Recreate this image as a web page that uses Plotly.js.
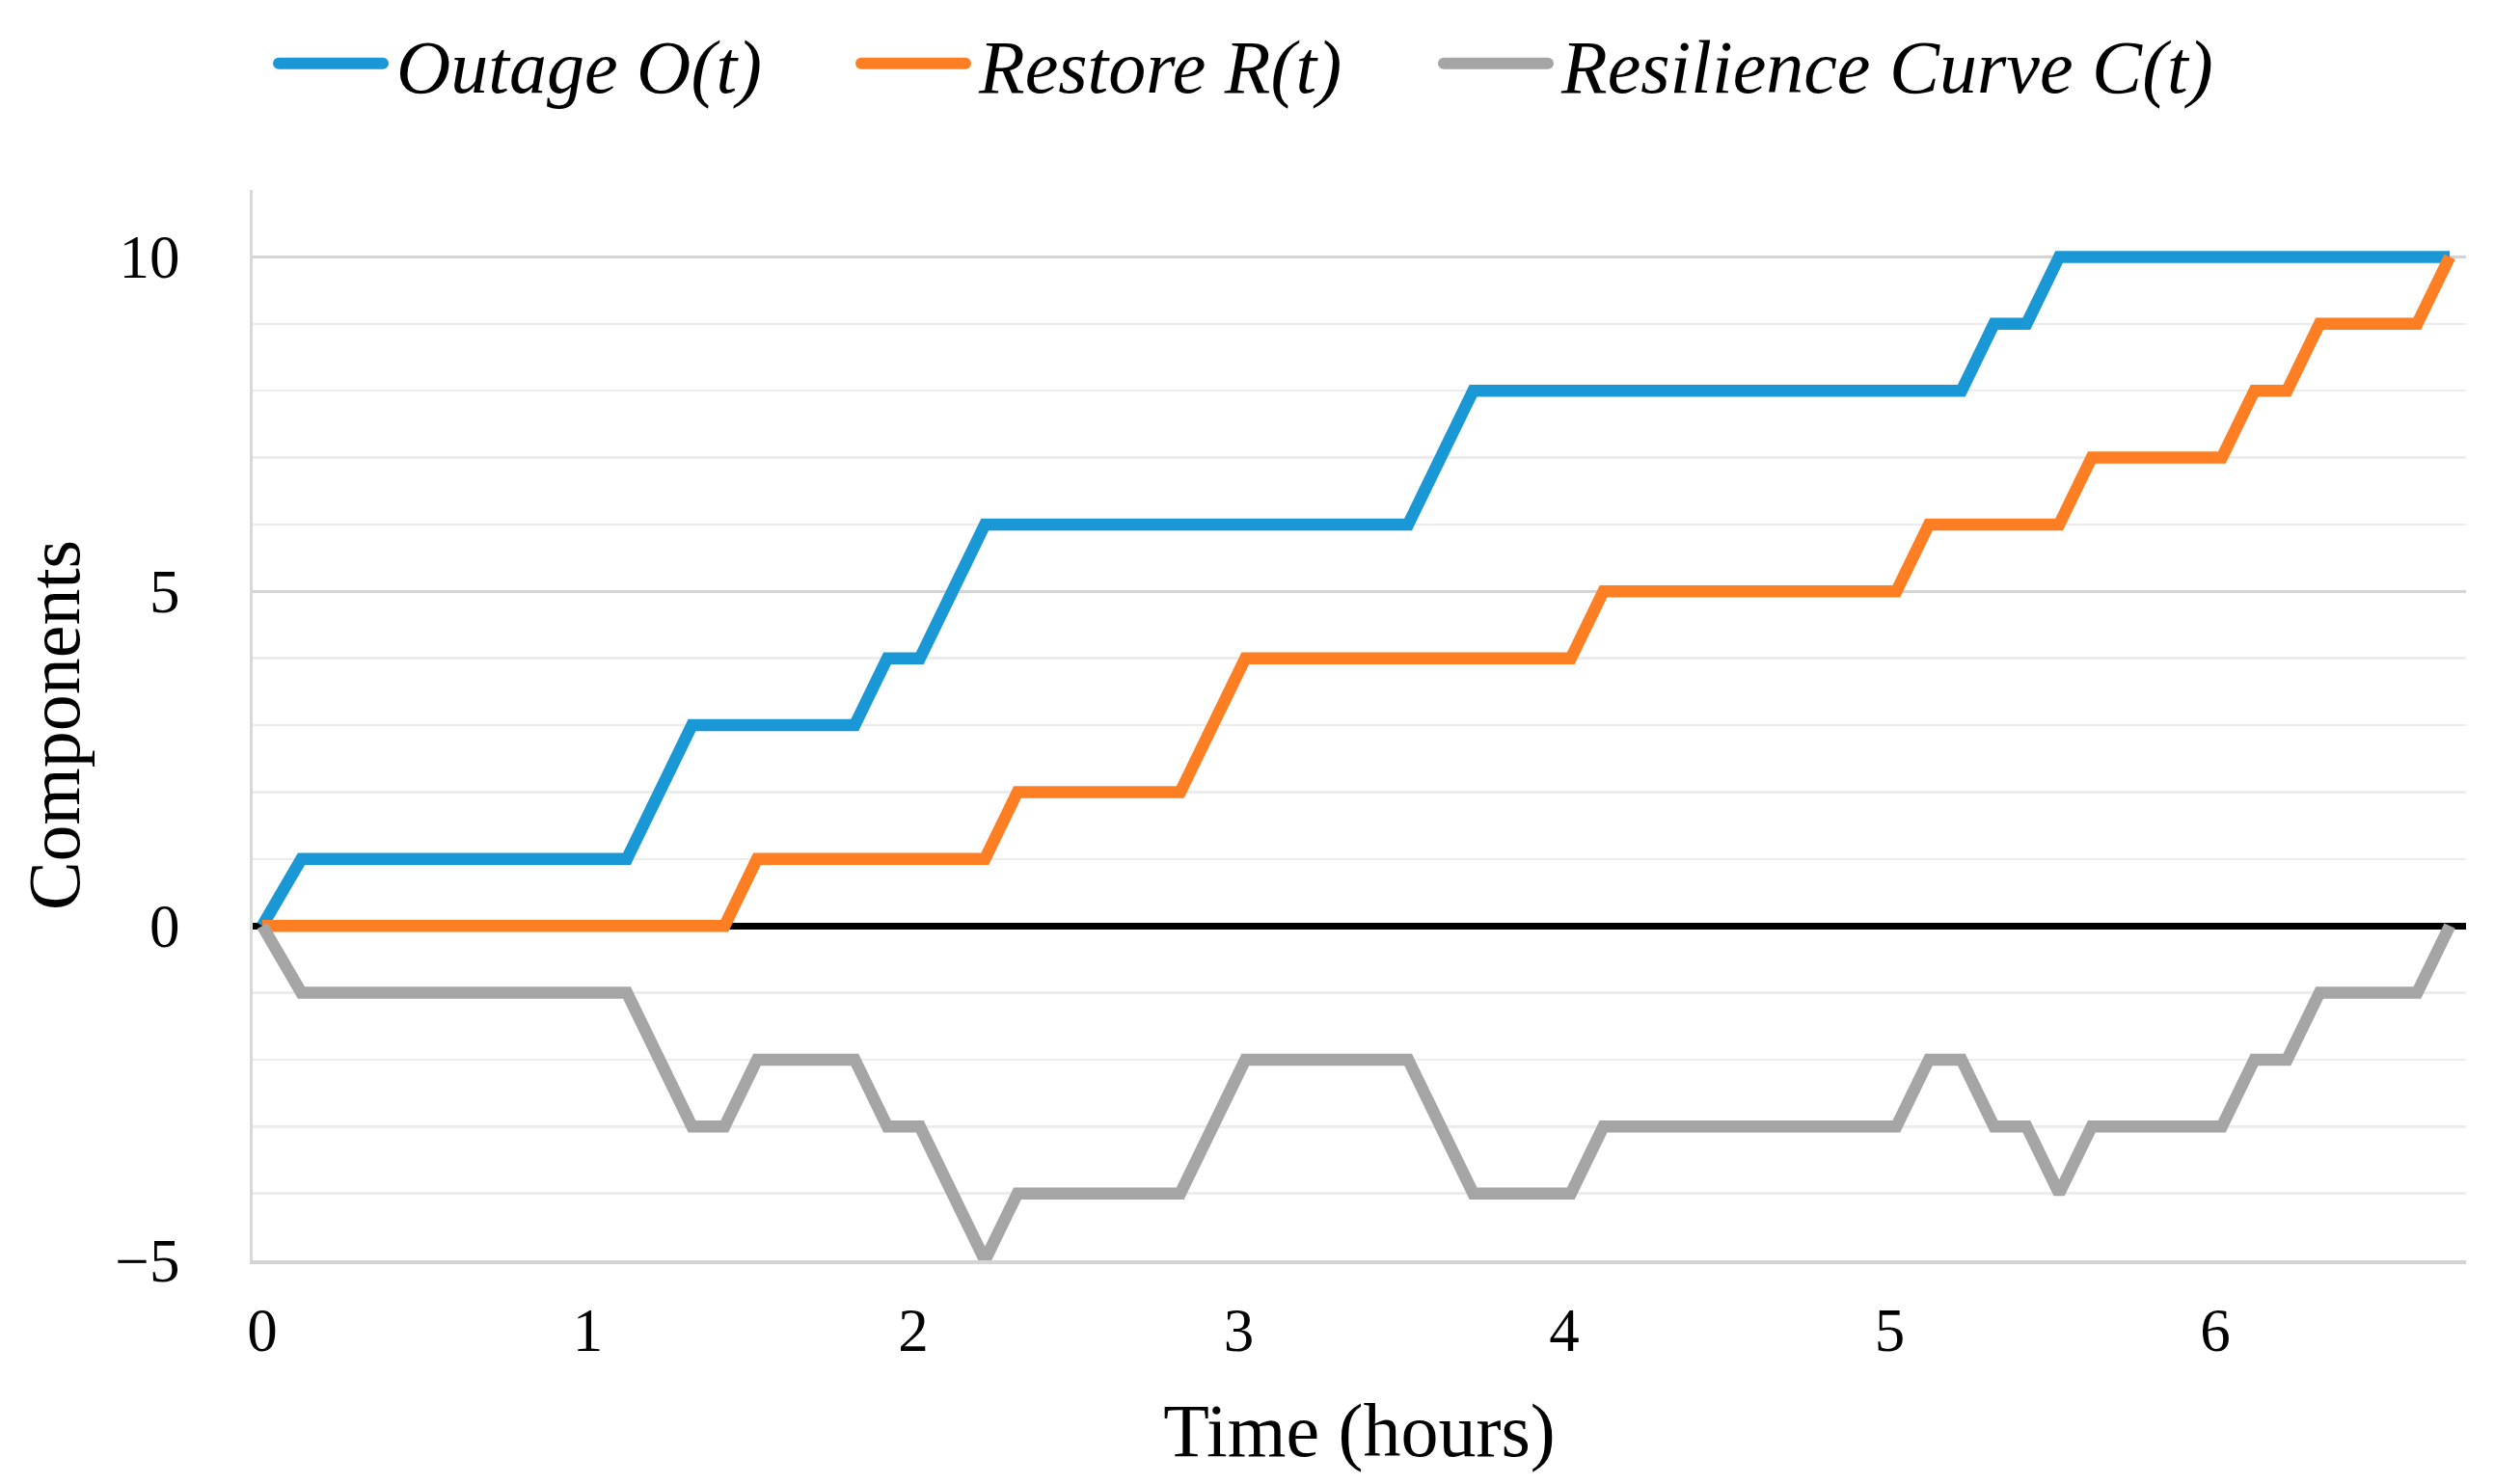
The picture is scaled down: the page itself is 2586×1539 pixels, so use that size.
<!DOCTYPE html>
<html>
<head>
<meta charset="utf-8">
<script src="https://cdn.plot.ly/plotly-3.0.1.min.js"></script>
<style>
html,body{margin:0;padding:0;background:#ffffff;}
#chart{width:2586px;height:1539px;}
</style>
</head>
<body>
<div id="chart"></div>
<script>
// ---- data ----
const timeHours = [0, 0.12, 1.12, 1.22, 1.32, 1.42, 1.52, 1.82, 1.92, 2.02, 2.12, 2.22, 2.32, 2.82, 2.92, 3.02, 3.52, 3.62, 3.72, 4.02, 4.12, 5.02, 5.12, 5.22, 5.32, 5.42, 5.52, 5.62, 6.02, 6.12, 6.22, 6.32, 6.62, 6.72];
const outage     = [0, 1, 1, 2, 3, 3, 3, 3, 4, 4, 5, 6, 6, 6, 6, 6, 6, 7, 8, 8, 8, 8, 8, 8, 9, 9, 10, 10, 10, 10, 10, 10, 10, 10];
const restore    = [0, 0, 0, 0, 0, 0, 1, 1, 1, 1, 1, 1, 2, 2, 3, 4, 4, 4, 4, 4, 5, 5, 6, 6, 6, 6, 6, 7, 7, 8, 8, 9, 9, 10];
const resilience = [0, -1, -1, -2, -3, -3, -2, -2, -3, -3, -4, -5, -4, -4, -3, -2, -2, -3, -4, -4, -3, -3, -2, -2, -3, -3, -4, -3, -3, -2, -2, -1, -1, 0];
const seriesNames = ['Outage O(t)', 'Restore R(t)', 'Resilience Curve C(t)'];
const seriesColors = ['#1a98d6', '#fe7f23', '#a5a5a5'];
const xTickVals = [0, 1, 2, 3, 4, 5, 6];
const yTickVals = [-5, 0, 5, 10];
const xTitle = 'Time (hours)';
const yTitle = 'Components';

const FONT = 'Liberation Serif, Times New Roman, serif';
const seriesValues = [outage, restore, resilience];

const traces = seriesValues.map((vals, i) => ({
  type: 'scatter',
  mode: 'lines',
  x: timeHours,
  y: vals,
  name: seriesNames[i],
  line: {color: seriesColors[i], width: 12.5}
}));

const layout = {
  width: 2586,
  height: 1539,
  paper_bgcolor: '#ffffff',
  plot_bgcolor: '#ffffff',
  margin: {l: 262, r: 29, t: 197, b: 232, pad: 0},
  font: {family: FONT, color: '#000000', size: 63},
  showlegend: true,
  legend: {
    orientation: 'h',
    xref: 'container', yref: 'container',
    x: 278 / 2586, xanchor: 'left',
    y: 1 - 66 / 1539, yanchor: 'middle',
    font: {family: FONT, size: 78, style: 'italic', color: '#000000'},
    itemwidth: 123,
    entrywidth: 466,
    entrywidthmode: 'pixels',
    bgcolor: 'rgba(0,0,0,0)',
    traceorder: 'normal'
  },
  xaxis: {
    range: [-0.0296, 6.770],
    tickmode: 'array',
    tickvals: xTickVals,
    ticktext: xTickVals.map(String),
    showgrid: false,
    zeroline: false,
    showline: true,
    linecolor: '#d4d4d4',
    linewidth: 3.5,
    ticks: '',
    ticklabelstandoff: 15,
    tickfont: {family: FONT, size: 63, color: '#000000'},
    title: {text: xTitle, standoff: 42, font: {family: FONT, size: 78, color: '#000000'}},
    automargin: true
  },
  yaxis: {
    range: [-5, 11],
    tickmode: 'array',
    tickvals: yTickVals,
    ticktext: yTickVals.map(v => v < 0 ? '\u2212' + Math.abs(v) : String(v)),
    showgrid: true,
    gridcolor: '#d4d4d4',
    gridwidth: 3.5,
    minor: {tickmode: 'linear', tick0: 0, dtick: 1, showgrid: true, gridcolor: '#ececec', gridwidth: 2.5},
    zeroline: true,
    zerolinecolor: '#000000',
    zerolinewidth: 7,
    showline: true,
    linecolor: '#d9d9d9',
    linewidth: 3,
    ticks: '',
    ticklabelstandoff: 60,
    tickfont: {family: FONT, size: 63, color: '#000000'},
    title: {text: yTitle, standoff: 12, font: {family: FONT, size: 76, color: '#000000'}},
    automargin: true
  }
};

Plotly.newPlot('chart', traces, layout, {displayModeBar: false, staticPlot: true}).then(() => {
  document.querySelectorAll('.legend [clip-path]').forEach(e => e.removeAttribute('clip-path'));
  document.querySelectorAll('.legend .legendlines path').forEach(p => {
    p.setAttribute('d', 'M11,0h108');
    p.style.strokeLinecap = 'round';
    p.style.strokeWidth = '12px';
  });
});
</script>
</body>
</html>
